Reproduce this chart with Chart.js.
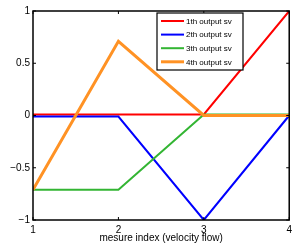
<!DOCTYPE html>
<html><head><meta charset="utf-8">
<script src="https://cdn.jsdelivr.net/npm/chart.js@4/dist/chart.umd.min.js"></script>
<style>html,body{margin:0;padding:0;background:#fff;}#wrap{width:296px;height:244px;}</style>
</head><body><div id="wrap"><canvas id="c" width="296" height="244"></canvas></div>
<script>
const xValues = [1, 2, 3, 4];
const seriesLabels = ['1th output sv', '2th output sv', '3th output sv', '4th output sv'];
const sv1 = [0.01, 0.01, 0.01, 1];
const sv2 = [-0.01, -0.01, -1, 0];
const sv3 = [-0.71, -0.71, 0.01, 0.01];
const sv4 = [-0.71, 0.71, 0, 0];
const colors = ['#ff0000', '#0000ff', '#33b533', '#ff9224'];
const widths = [2, 2, 2, 3];
const yTicks = [-1, -0.5, 0, 0.5, 1];
const xTitle = 'mesure index (velocity flow)';

const allSeries = [sv1, sv2, sv3, sv4];
const FONT = '"Liberation Sans", Arial, sans-serif';

const frame = {
  id: 'frame',
  afterDatasetsDraw(chart) {
    const {ctx, chartArea: a, scales} = chart;
    ctx.save();
    ctx.strokeStyle = '#000';
    ctx.lineWidth = 1.5;
    ctx.strokeRect(a.left, a.top, a.right - a.left, a.bottom - a.top);
    ctx.lineWidth = 1;
    ctx.beginPath();
    xValues.forEach(v => {
      const x = scales.x.getPixelForValue(v);
      ctx.moveTo(x, a.bottom); ctx.lineTo(x, a.bottom - 3);
      ctx.moveTo(x, a.top); ctx.lineTo(x, a.top + 3);
    });
    yTicks.forEach(v => {
      const y = scales.y.getPixelForValue(v);
      ctx.moveTo(a.left, y); ctx.lineTo(a.left + 3, y);
      ctx.moveTo(a.right, y); ctx.lineTo(a.right - 3, y);
    });
    ctx.stroke();
    // legend
    const lx = 157, ly = 13, lw = 86, lh = 57;
    ctx.fillStyle = '#fff';
    ctx.fillRect(lx, ly, lw, lh);
    ctx.lineWidth = 1.2;
    ctx.strokeRect(lx, ly, lw, lh);
    ctx.font = '8px ' + FONT;
    ctx.textBaseline = 'middle';
    ctx.textAlign = 'left';
    chart.data.datasets.forEach((ds, i) => {
      const y = ly + 8 + i * 13.6;
      ctx.strokeStyle = ds.borderColor;
      ctx.lineWidth = ds.borderWidth;
      ctx.beginPath(); ctx.moveTo(lx + 4, y); ctx.lineTo(lx + 27, y); ctx.stroke();
      ctx.fillStyle = '#000';
      ctx.fillText(ds.label, lx + 29, y + 0.5);
    });
    ctx.restore();
  }
};

new Chart(document.getElementById('c'), {
  type: 'line',
  data: {
    datasets: allSeries.map((s, i) => ({
      label: seriesLabels[i],
      data: s.map((y, j) => ({x: xValues[j], y})),
      borderColor: colors[i],
      backgroundColor: colors[i],
      borderWidth: widths[i],
      pointRadius: 0,
      tension: 0,
      fill: false,
      order: allSeries.length - i
    }))
  },
  options: {
    responsive: false,
    animation: false,
    devicePixelRatio: 1,
    layout: {padding: {top: 11, right: 3, left: 0, bottom: 0}},
    plugins: {legend: {display: false}, tooltip: {enabled: false}},
    scales: {
      x: {
        type: 'linear', min: 1, max: 4,
        afterBuildTicks: s => { s.ticks = xValues.map(v => ({value: v})); },
        grid: {display: false, drawTicks: false},
        border: {display: false},
        ticks: {color: '#000', font: {family: FONT, size: 10}, padding: 4, maxRotation: 0,
                callback: v => String(v)},
        title: {display: true, text: xTitle, color: '#000', font: {family: FONT, size: 10}, padding: {top: 0, bottom: 0}},
        afterFit: s => { s.height = 24; }
      },
      y: {
        type: 'linear', min: -1, max: 1,
        afterBuildTicks: s => { s.ticks = yTicks.map(v => ({value: v})); },
        grid: {display: false, drawTicks: false},
        border: {display: false},
        ticks: {color: '#000', font: {family: FONT, size: 10}, padding: 3,
                callback: v => String(v).replace('-', '\u2212')},
        afterFit: s => { s.width = 33; }
      }
    }
  },
  plugins: [frame]
});
</script></body></html>
